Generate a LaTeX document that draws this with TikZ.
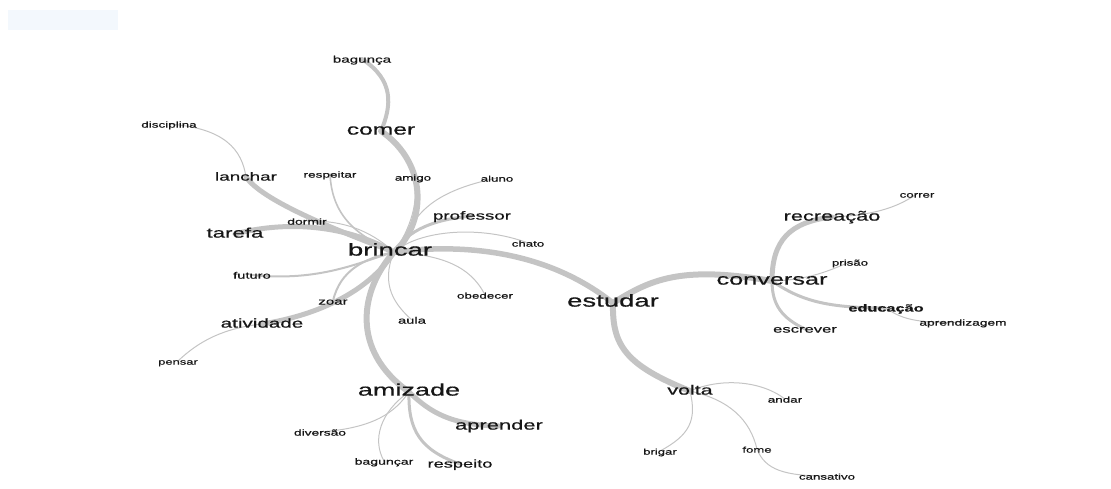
\documentclass[tikz,border=0pt]{standalone}
\usepackage{fontspec}
\newfontfamily\wf{Liberation Sans}[FakeStretch=1.6, FakeBold=0.6]
\pgfdeclarelayer{bg}
\pgfsetlayers{bg,main}
\definecolor{txt}{RGB}{22,22,22}
\definecolor{edgec}{RGB}{196,196,196}
\definecolor{thinc}{RGB}{196,196,196}
\definecolor{ghost}{RGB}{243,248,253}
\tikzset{
  w/.style={font=\wf\fontsize{#1}{#1}\selectfont, inner sep=0pt, text=txt, text height=0.72em, text depth=0pt},
  e/.style={draw=edgec, line width=#1, line cap=round},
  thin edge/.style={draw=thinc, line width=1pt, line cap=round},
}
\begin{document}
\begin{tikzpicture}[x=1pt,y=-1pt]
\path[use as bounding box] (0,0) rectangle (1111,488);

% nodes
\node[w=17.2] (brincar) at (390,252) {brincar};
\node[w=17.2] (estudar) at (613,303) {estudar};
\node[w=16.9] (amizade) at (409,392) {amizade};
\node[w=15.8] (conversar) at (772,281) {conversar};
\node[w=15.4] (comer) at (381,131) {comer};
\node[w=13.9] (tarefa) at (235,234) {tarefa};
\node[w=13.7] (aprender) at (499,426) {aprender};
\node[w=13.6] (recreacao) at (832,217) {recreação};
\node[w=13.4] (volta) at (690,391) {volta};
\node[w=12.9] (atividade) at (262,324) {atividade};
\node[w=11.8] (lanchar) at (246,177) {lanchar};
\node[w=11.7] (professor) at (472,216) {professor};
\node[w=11.4] (respeito) at (460,464) {respeito};
\node[w=10.4, font=\wf\bfseries\fontsize{10.2}{10.2}\selectfont] (educacao) at (886,308) {educação};
\node[w=10.4] (escrever) at (805,329) {escrever};
\node[w=9.5] (bagunca) at (362,59) {bagunça};
\node[w=8.4] (disciplina) at (169,124) {disciplina};
\node[w=8.5] (respeitar) at (330,174) {respeitar};
\node[w=8.3] (amigo) at (413,177) {amigo};
\node[w=8.3] (aluno) at (497,178) {aluno};
\node[w=8.7] (dormir) at (307,221) {dormir};
\node[w=8.3] (chato) at (528,243) {chato};
\node[w=9.2] (futuro) at (252,275) {futuro};
\node[w=9.4] (zoar) at (333,301) {zoar};
\node[w=8.4] (obedecer) at (485,295) {obedecer};
\node[w=9.2] (aula) at (412,320) {aula};
\node[w=8.1] (pensar) at (178,361) {pensar};
\node[w=8.6] (diversao) at (320,432) {diversão};
\node[w=8.8] (buncar) at (384,461) {bagunçar};
\node[w=8.3] (correr) at (917,194) {correr};
\node[w=8.3] (prisao) at (850,262) {prisão};
\node[w=8.6] (aprendizagem) at (963,322) {aprendizagem};
\node[w=8.4] (andar) at (785,399) {andar};
\node[w=8.2] (brigar) at (660,451) {brigar};
\node[w=8.2] (fome) at (757,449) {fome};
\node[w=8.3] (cansativo) at (827,476) {cansativo};

\coordinate (hub) at (394,252);

\begin{pgfonlayer}{bg}
\fill[ghost] (8,10) rectangle (118,30);
% brincar cluster
\draw[e=6pt] (hub) .. controls (425,225) and (430,165) .. (comer.center);
\draw[e=4pt] (comer.center) .. controls (392,105) and (394,80) .. (bagunca.center);
\draw[e=5pt] (lanchar.center) .. controls (262,200) and (330,228) .. (hub);
\draw[thin edge] (lanchar.center) .. controls (242,150) and (225,128) .. (disciplina.center);
\draw[e=5pt] (tarefa.center) .. controls (280,222) and (340,222) .. (hub);
\draw[thin edge] (dormir.center) .. controls (350,220) and (375,235) .. (hub);
\draw[e=1.6pt] (respeitar.center) .. controls (332,215) and (355,235) .. (hub);
\draw[thin edge] (amigo.center) .. controls (420,200) and (410,230) .. (hub);
\draw[thin edge] (hub) .. controls (415,225) and (415,195) .. (aluno.center);
\draw[e=3pt] (hub) .. controls (405,235) and (425,220) .. (professor.center);
\draw[thin edge] (hub) .. controls (420,230) and (480,225) .. (chato.center);
\draw[e=5.5pt] (hub) .. controls (450,245) and (540,245) .. (estudar.center);
\draw[thin edge] (hub) .. controls (440,255) and (470,265) .. (obedecer.center);
\draw[thin edge] (hub) .. controls (380,285) and (395,305) .. (aula.center);
\draw[e=2pt] (futuro.center) .. controls (320,282) and (360,262) .. (hub);
\draw[e=2pt] (zoar.center) .. controls (340,270) and (365,258) .. (hub);
\draw[e=5pt] (atividade.center) .. controls (320,315) and (370,290) .. (hub);
\draw[thin edge] (atividade.center) .. controls (225,328) and (200,340) .. (pensar.center);
\draw[e=6pt] (hub) .. controls (360,290) and (350,350) .. (amizade.center);
% amizade cluster
\draw[e=5pt] (amizade.center) .. controls (430,412) and (450,425) .. (aprender.center);
\draw[e=3pt] (amizade.center) .. controls (408,430) and (420,450) .. (respeito.center);
\draw[thin edge] (amizade.center) .. controls (395,412) and (375,428) .. (diversao.center);
\draw[thin edge] (amizade.center) .. controls (380,412) and (372,440) .. (buncar.center);
% estudar cluster
\draw[e=6pt] (estudar.center) .. controls (650,280) and (680,265) .. (conversar.center);
\draw[e=6pt] (estudar.center) .. controls (612,345) and (625,365) .. (volta.center);
\draw[e=5pt] (conversar.center) .. controls (772,240) and (790,222) .. (recreacao.center);
\draw[e=3pt] (conversar.center) .. controls (772,305) and (782,318) .. (escrever.center);
\draw[e=3pt] (conversar.center) .. controls (800,300) and (825,308) .. (educacao.center);
\draw[thin edge] (conversar.center) .. controls (810,280) and (830,270) .. (prisao.center);
\draw[thin edge] (recreacao.center) .. controls (880,215) and (900,205) .. (correr.center);
\draw[thin edge] (educacao.center) .. controls (900,318) and (915,324) .. (aprendizagem.center);
\draw[thin edge] (volta.center) .. controls (720,378) and (760,380) .. (andar.center);
\draw[thin edge] (volta.center) .. controls (697,420) and (690,435) .. (brigar.center);
\draw[thin edge] (volta.center) .. controls (730,400) and (750,420) .. (fome.center);
\draw[thin edge] (fome.center) .. controls (765,470) and (785,476) .. (cansativo.center);
\end{pgfonlayer}
\end{tikzpicture}
\end{document}
